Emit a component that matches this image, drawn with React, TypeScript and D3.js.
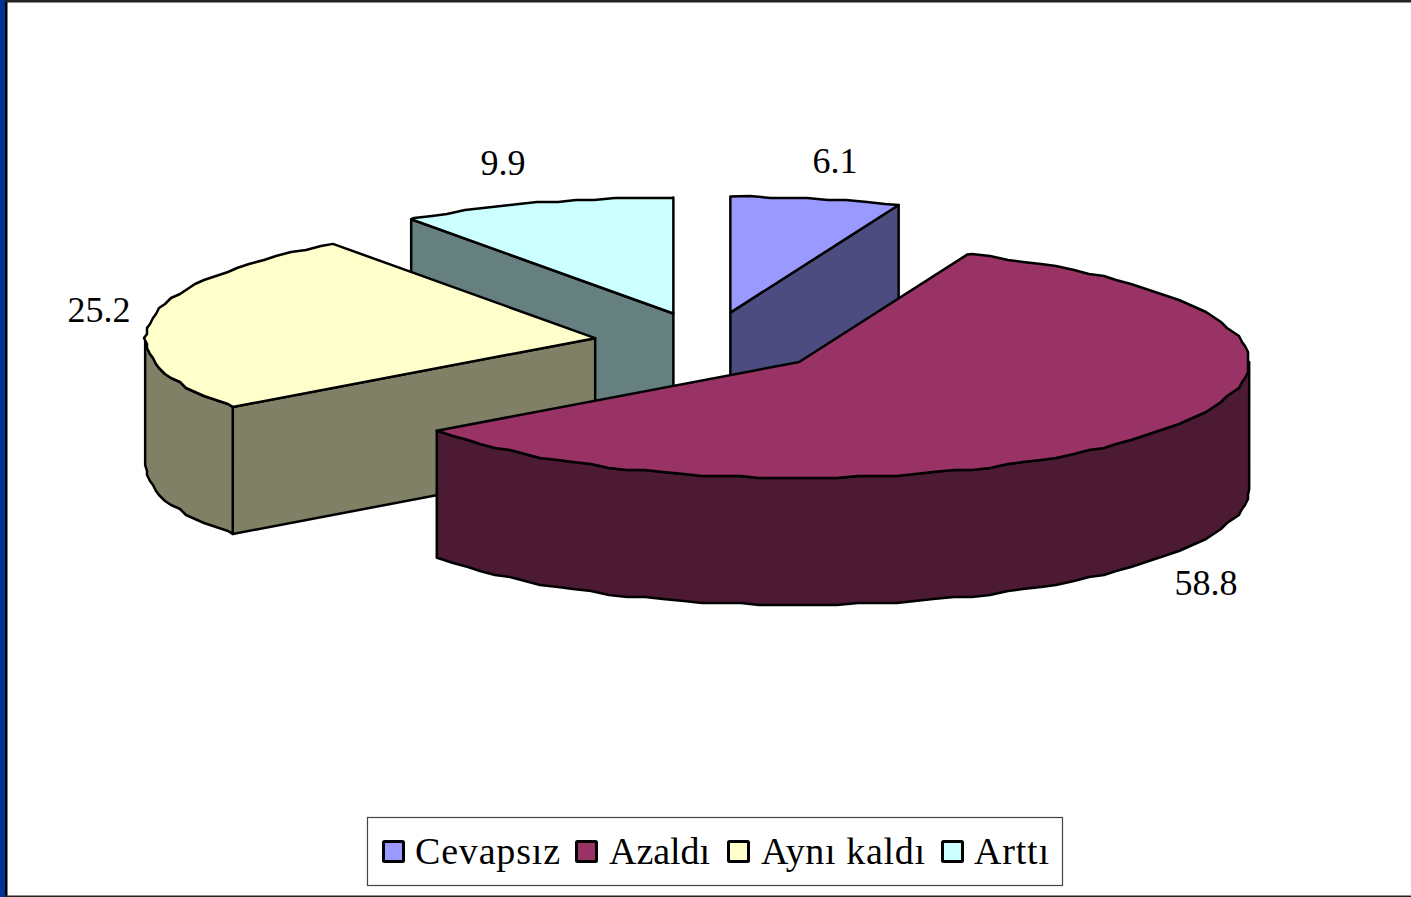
import React from "react";
import * as d3 from "d3";

const categories = ["Cevapsız", "Azaldı", "Aynı kaldı", "Arttı"];
const values = [6.1, 58.8, 25.2, 9.9];
const topColors = ["#9999FF", "#993366", "#FFFFCC", "#CCFFFF"];
const wallColors = ["#4C4C80", "#4D1A33", "#808066", "#668080"];

const W = 1411, H = 897;
const CX = 708.5, CY = 343, RX = 450, RY = 116, DEPTH = 127, EXPLODE_X = 0.255, EXPLODE_Y = 0.267;
const SNAP_X = 3, SNAP_Y = 2;
const STEP = (2.5 * Math.PI) / 180;
const FONT = "'Liberation Serif', 'Times New Roman', serif";
const FS = 36;
const LEGEND_FS = 38;

const labelXY: [number, number][] = [[835, 173], [1206, 595], [99, 322], [503, 175]];
const legendSwatchX = [382, 575, 727, 941];
const legendTextX = [415, 609, 761, 974];
const legendTextW = [145, 101, 164, 75];

const xs = d3.scaleLinear().domain([-1, 1]).range([CX - RX, CX + RX]);
const ys = d3.scaleLinear().domain([-1, 1]).range([CY - RY, CY + RY]);

const arcs = d3.pie<number>().sort(null).startAngle(0).endAngle(2 * Math.PI)(values);
const line = d3.line<[number, number]>();

function slice(i: number) {
  const { startAngle: a0, endAngle: a1 } = arcs[i];
  const mid = (a0 + a1) / 2;
  const ux = EXPLODE_X * Math.sin(mid), uy = -EXPLODE_Y * Math.cos(mid);
  const c: [number, number] = [xs(ux), ys(uy)];
  const pt = (a: number): [number, number] => [xs(ux + Math.sin(a)), ys(uy - Math.cos(a))];
  const rough = (a: number): [number, number] => {
    const p = pt(a);
    return [Math.round(p[0] / SNAP_X) * SNAP_X, Math.round(p[1] / SNAP_Y) * SNAP_Y];
  };
  // fixed angular grid so that the top face and its wall share the same vertices
  const arcPts = (s: number, e: number) => {
    const grid = d3.range(Math.floor(s / STEP) + 1, Math.ceil(e / STEP)).map((k) => k * STEP);
    return [pt(s), ...grid.map(rough), pt(e)];
  };
  const down = (p: [number, number]): [number, number] => [p[0], p[1] + DEPTH];
  const walls: string[] = [];
  const quad = (top: [number, number][]) => walls.push(line([...top, ...top.slice().reverse().map(down)])! + "Z");
  if (Math.sin(a0) < -1e-6) quad([pt(a0), c]);
  if (Math.sin(a1) > 1e-6) quad([c, pt(a1)]);
  const s = Math.max(a0, Math.PI / 2), e = Math.min(a1, (3 * Math.PI) / 2);
  if (e > s) quad(arcPts(s, e));
  const top = line([c, ...arcPts(a0, a1)])! + "Z";
  return { c, top, walls };
}

const slices = values.map((_, i) => ({ i, ...slice(i) })).sort((a, b) => a.c[1] - b.c[1]);

export default function App() {
  return (
    <svg width={W} height={H} style={{ position: "fixed", left: 0, top: 0, background: "#fff" }}>
      <rect x={0} y={0} width={W} height={H} fill="#fff" />
      <rect x={0} y={0} width={5} height={H} fill="#003399" />
      <rect x={5} y={0} width={2.5} height={H} fill="#000" />
      <rect x={5} y={0} width={W} height={2.5} fill="#222" />
      <rect x={5} y={895.5} width={W} height={1.5} fill="#222" />
      {slices.map((s) => (
        <g key={s.i} stroke="#000" strokeWidth={2.5} strokeLinejoin="round">
          {s.walls.map((d, k) => (
            <path key={k} d={d} fill={wallColors[s.i]} />
          ))}
          <path d={s.top} fill={topColors[s.i]} />
        </g>
      ))}
      <g fontFamily={FONT} fontSize={FS} fill="#000">
        {values.map((v, i) => (
          <text key={i} x={labelXY[i][0]} y={labelXY[i][1]} textAnchor="middle">
            {v.toFixed(1)}
          </text>
        ))}
      </g>
      <rect x={367.5} y={817.5} width={695} height={68} fill="#fff" stroke="#444" strokeWidth={1.2} />
      {categories.map((c, i) => (
        <g key={c}>
          <rect x={legendSwatchX[i] + 1.5} y={841.5} width={20} height={20} fill={topColors[i]} stroke="#000" strokeWidth={3} rx={1} />
          <text
            x={legendTextX[i]}
            y={864}
            fontFamily={FONT}
            fontSize={LEGEND_FS}
            fill="#000"
            textLength={legendTextW[i]}
            lengthAdjust="spacing"
          >
            {c}
          </text>
        </g>
      ))}
    </svg>
  );
}
